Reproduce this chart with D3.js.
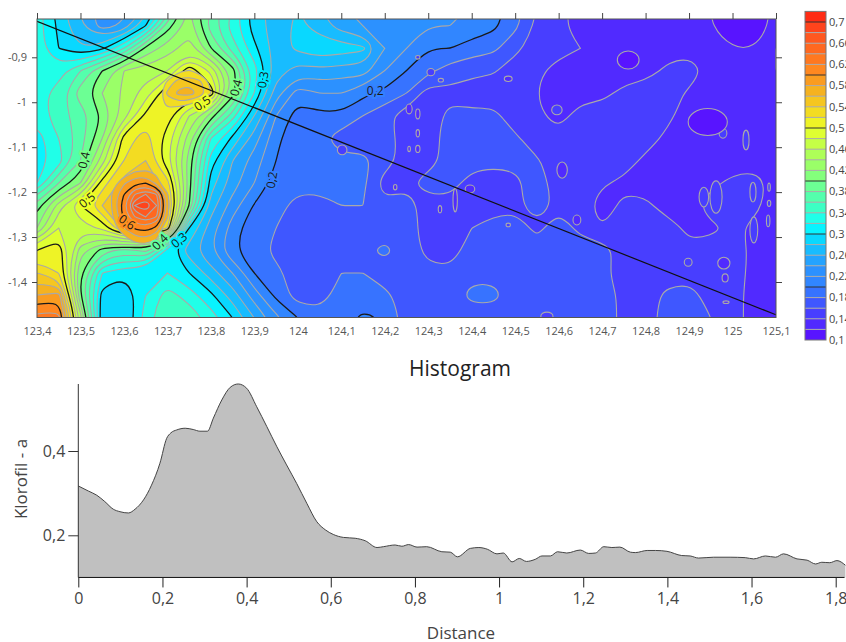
<!DOCTYPE html>
<html>
<head>
<meta charset="utf-8">
<script src="https://cdn.jsdelivr.net/npm/d3@7"></script>
<style>
	body { margin: 0; background: white; }
	text { font-family: "Open Sans", sans-serif; }
</style>
</head>
<body>
<div id="vis"></div>
<script>
// klorofil-a grid, in hundredths. rows go south from -0.78, columns east from 123.35, both every 0.05
const lon0 = 123.35;
const lat0 = -0.78;
const gridStep = 0.05;
const gridRows = [
	[33,33,29,26,23,23,26,33,42,38,34,29,27,28,26,24,23,22,23,22,22,22,21,19,16,15,13,13,13,13,13,13,12,10,10,13,13],
	[33,33,29.5,26,23,24.5,30,39,43,37,33,29,27,28.5,27,25,24,22,23,22,22,21.5,20.5,18.5,15.5,14.5,13,13,13,13,13,13,12,10,10,13,14],
	[33,33,30,28,29.5,34,40.5,43,45,40,35,30.5,27,28.5,29.5,29,28.5,24,22,20,20,19,18.5,16.5,15,15,14,13,13,13,13,13,13,12,12,14,14],
	[32,32,33,36,40,44,45,46,51.5,47.5,41,33,27,25,25.5,25,25,22,20,18.5,17,16.5,16.2,15,14.5,13,13,13,13,13,14.5,15.5,13,13,13,14,14],
	[33,33,35,39,42,44.5,47,51.9,51.9,51.5,41,32,25,21,22,22,20.5,19.5,18,15,15.5,15,15,15,14,13,13,13.5,14.5,15.5,15.5,13.5,13,13,13,13,13],
	[33,33,35,37,40,45,50.5,51,46,41,35,28,22,19,19.5,19.6,18,16.5,15,15,16.5,16.5,16.5,15,14.5,13,15,15,15,15,14.5,13,13,13,13,13,13],
	[31,31,34,37,42,51,53,49,43,34,29.5,25,20.5,18.5,18.5,17,17,17,15,15,17,17,17,16.3,15,15,15,15,15,15,13.5,13,13,13,13,13,13],
	[31,31,33,38,45,52,54,48.5,41,31,26,23,20,18.5,18.5,18.5,18.5,17,15,15,17,17,16.5,16.5,16.2,15,15,15,15,13.5,13,13,13,13,13,13,13],
	[31,32,38,42,51,55,55.5,53,41,29,25,22,19,18.5,18.5,18.5,18.5,15,15.5,17,17,15,15,15.5,17,15,15,14.3,13.5,13,13,13,13.5,14.5,15,13,13],
	[36,39,45,50,54,55.5,55.9,55.9,40,27,23,19.8,18.5,17.5,17.5,18,18,16.5,17,15,15,14,15,15.5,17,15.5,15,13,14.5,14.5,13,13,15,15,14.5,13,13],
	[40,42,48,47,48.5,55,55.5,52,30,25,21,18.5,18,17,17,17,17,17,17,15,15,16,17,17,15.5,17,15.5,14,15,15,15,13.5,13.5,14.5,13.5,13,13],
	[48,50,51.5,43,39,37,38.5,31,27,24,20.3,18.8,17.5,17.5,17,16.5,17.5,18.5,17,15.5,15,17,17,17,17,17,17,17,15,15,15,14.5,15,15,13.5,13,13],
	[54,54,52,40,32,30.5,30,32,30,27,24,20,18.5,17,17,18,18,17,17,16.5,16.5,17.5,17.5,17,17,17,17,16.5,15,15,15,15,15,15.5,13,13,13],
	[58,58,59,40,29,28,32,35,33,30.5,27,23,19.5,17,17.5,18.5,18.5,18.5,17,17,17,18.5,18.5,17,17,17,17,17,15.5,15,16.5,17,15,15,13,13,13],
	[62,63,63,45,28.5,28,33,36,35.5,33,30,26,22.5,20,18.5,19,20.5,19.8,17,17,17,17,17,17,17,17,17,17,15.5,15,17,17,16,15,13,13,13],
	[62,63,63,45,28,28,33,36,36,34,32,28,24,21,19,19,21,20,17,17,17,17,17,17,17,17,17,17,15.5,15,17,17,16,15,13,13,13]
];

// the two peaks read at a finer step, 0.025
const hotStep = 0.025;
const hotLon = 123.55;
const hotLat = -1.13;
const hotRows = [
	[52,53,54,54,54,54,53,50,45],
	[52,53,54.7,56,56.3,55.5,52,48,45],
	[52.5,55,57.7,59.6,60,57.5,53,49,44],
	[53,56.5,60,64,66,64,56.5,50,44],
	[53.5,56.5,61.5,68,69.8,66,57,50,42],
	[53,56,60.5,64,66,64,56.5,50,42],
	[52,55,58,60.3,61,59.5,53,48,40],
	[51,53,55,57,57.5,56,52,45,38],
	[48,50,52,53.5,54,53,50,42,36]
];
const secondLon = 123.65;
const secondLat = -0.88;
const secondRows = [
	[44,45,45,46,47,46,43,40,36],
	[45,46,47,48,48.5,48,45,42,38],
	[46,47,49,51.5,52.2,51,48,44,40],
	[47,49,52.5,55,55.5,54.5,51.5,45,41],
	[47,50,54.5,56.5,57,55.5,52,46,41],
	[47,50.5,52.5,53,52,50,47,44,38],
	[49,50.5,50.5,48,46,44,41,38,35]
];

const levels = d3.range(10, 72, 2); // 0,1 .. 0,7 every 0,02
const colorStops = [10, 12, 14, 16, 18, 20, 24, 28, 30, 32, 34, 38, 42, 46, 50, 54, 58, 60, 64, 68, 72];
const colorValues = ["#5a08ff", "#5520ff", "#4c33ff", "#4448ff", "#3a66ff", "#3380ff", "#2a96ff", "#12c8ff", "#00e8ff", "#10ffff", "#30ffd0", "#60ffa0", "#90ff70", "#b8ff50", "#ecff28", "#f5d020", "#f5a820", "#ff9020", "#ff7020", "#ff5020", "#ff2010"];

const lonTicks = [123.4, 123.5, 123.6, 123.7, 123.8, 123.9, 124, 124.1, 124.2, 124.3, 124.4, 124.5, 124.6, 124.7, 124.8, 124.9, 125, 125.1];
const latTicks = [-0.9, -1, -1.1, -1.2, -1.3, -1.4];
const barTicks = [0.7, 0.66, 0.62, 0.58, 0.54, 0.5, 0.46, 0.42, 0.38, 0.34, 0.3, 0.26, 0.22, 0.18, 0.14, 0.1];

// label, lon, lat, angle, level
const contourLabels = [
	["0,4", 123.508, -1.129, -78, 40],
	["0,5", 123.515, -1.218, -40, 50],
	["0,6", 123.607, -1.267, 35, 60],
	["0,4", 123.683, -1.311, -45, 38],
	["0,3", 123.727, -1.307, -40, 30],
	["0,5", 123.78, -1.002, -35, 50],
	["0,4", 123.858, -0.968, -75, 40],
	["0,3", 123.92, -0.95, -80, 30],
	["0,2", 123.94, -1.173, -80, 20],
	["0,2", 124.178, -0.975, 0, 20]
];

// patches too small for the grid: lon, lat, radius lon, radius lat, level
const spots = [
	[124.256, -1.015, .007, .011, 13],
	[124.276, -1.026, .005, .011, 13],
	[124.276, -1.069, .004, .008, 13],
	[124.256, -1.104, .003, .006, 13],
	[124.276, -1.104, .005, .008, 13],
	[124.102, -1.106, .011, .011, 15],
	[124.224, -1.189, .004, .006, 13],
	[124.396, -1.193, .011, .009, 13],
	[124.362, -1.218, .005, .026, 13],
	[124.327, -1.238, .004, .008, 13],
	[124.306, -0.933, .009, .008, 15],
	[124.329, -0.951, .006, .004, 15],
	[124.484, -0.948, .009, .006, 13],
	[124.484, -1.273, .005, .004, 15],
	[124.573, -1.476, .014, .009, 15],
	[124.276, -0.9, .005, .004, 15],
	[124.596, -1.017, .012, .011, 15],
	[124.608, -1.151, .012, .018, 13],
	[124.642, -1.262, .009, .011, 13],
	[124.978, -1.069, .009, .011, 15],
	[125.031, -1.084, .007, .022, 15],
	[125.084, -1.189, .003, .009, 15],
	[125.084, -1.225, .004, .007, 15],
	[125.082, -1.264, .004, .013, 15],
	[125.047, -1.2, .007, .022, 15],
	[125.049, -1.284, .009, .029, 15],
	[124.898, -1.356, .009, .009, 15],
	[124.98, -1.358, .014, .013, 13],
	[124.983, -1.391, .007, .009, 13],
	[124.985, -1.445, .007, .003, 13],
	[124.76, -0.906, .025, .02, 11],
	[124.934, -1.211, .011, .022, 15],
	[124.962, -1.211, .014, .036, 15],
	[124.943, -1.044, .045, .03, 11]
];

// transect line across the map
const transectLon = [123.4, 125.1];
const transectLat = [-0.82, -1.473];

// profile along the transect
const distance = [0, .024, .044, .063, .083, .099, .119, .135, .155, .174, .194, .21, .22, .234, .254, .273, .289, .307, .321, .341, .361, .38, .4, .424, .448, .472, .495, .519, .543, .567, .587, .606, .63, .658, .682, .71, .725, .753, .769, .785, .805, .828, .864, .884, .901, .932, .952, .972, .995, 1.01, 1.031, 1.048, 1.065, 1.086, 1.102, 1.122, 1.139, 1.161, 1.193, 1.213, 1.229, 1.249, 1.268, 1.287, 1.312, 1.324, 1.352, 1.372, 1.399, 1.434, 1.454, 1.474, 1.51, 1.549, 1.585, 1.605, 1.633, 1.657, 1.676, 1.708, 1.732, 1.752, 1.767, 1.786, 1.803, 1.823];
const klorofil = [.317, .305, .295, .28, .262, .256, .253, .262, .284, .319, .371, .43, .443, .45, .454, .451, .447, .447, .478, .521, .551, .559, .549, .505, .458, .41, .367, .323, .276, .232, .213, .202, .195, .193, .187, .171, .173, .177, .174, .178, .172, .173, .161, .16, .149, .169, .171, .167, .156, .158, .137, .145, .138, .143, .151, .151, .161, .158, .165, .157, .158, .173, .171, .172, .16, .159, .164, .164, .162, .152, .151, .146, .148, .148, .147, .144, .151, .148, .156, .144, .141, .132, .136, .135, .14, .129];
const distTicks = [0, 0.2, 0.4, 0.6, 0.8, 1, 1.2, 1.4, 1.6, 1.8];
const klorofilTicks = [0.2, 0.4];

const comma = d => String(d).replace(".", ",");

const svg = d3.select("#vis").append("svg").attr("width", 846).attr("height", 642).style("display", "block");

const color = d3.scaleLinear().domain(colorStops).range(colorValues);

// map
const x = d3.scaleLinear().domain([123.4, 125.1]).range([37, 776]);
const y = d3.scaleLinear().domain([-0.9, -1.4]).range([57.3, 282]);
const mapTop = 19;
const mapBottom = 317.5;

svg.append("clipPath").attr("id", "mapclip").append("rect")
	.attr("x", x.range()[0]).attr("y", mapTop)
	.attr("width", x.range()[1] - x.range()[0]).attr("height", mapBottom - mapTop);

const map = svg.append("g").attr("clip-path", "url(#mapclip)");

map.append("rect")
	.attr("x", x.range()[0]).attr("y", mapTop)
	.attr("width", x.range()[1] - x.range()[0]).attr("height", mapBottom - mapTop)
	.attr("fill", color(11));

const ringLine = d3.line().curve(d3.curveBasisClosed);

// bands and isolines of one grid
function drawGrid(rows, lonStart, latStart, step, thresholds) {
	const contours = d3.contours()
		.size([rows[0].length, rows.length])
		.smooth(true)
		.thresholds(thresholds)(rows.flat());

	function ringPath(c) {
		let out = "";
		c.coordinates.forEach(poly => poly.forEach(ring => {
			const pts = ring.slice(0, -1).map(p => [
				x(lonStart + (p[0] - 0.5) * step),
				y(latStart - (p[1] - 0.5) * step)
			]);
			out += ringLine(pts);
		}));
		return out;
	}

	const g = map.append("g");
	g.selectAll("path.band").data(contours).enter().append("path")
		.attr("class", "band")
		.attr("d", ringPath)
		.attr("fill-rule", "evenodd")
		.attr("fill", d => color(d.value + 1));

	g.selectAll("path.iso").data(contours.filter(d => d.value > 10)).enter().append("path")
		.attr("class", "iso")
		.attr("d", ringPath)
		.attr("fill", "none")
		.attr("stroke", d => d.value % 10 == 0 ? "#1a1a1a" : "#a9a9a9")
		.attr("stroke-width", d => d.value % 10 == 0 ? 1.3 : 1.1);
}

drawGrid(gridRows, lon0, lat0, gridStep, levels);
drawGrid(secondRows, secondLon, secondLat, hotStep, levels.filter(d => d >= 52));
drawGrid(hotRows, hotLon, hotLat, hotStep, levels.filter(d => d >= 56));

map.selectAll("ellipse").data(spots).enter().append("ellipse")
	.attr("cx", d => x(d[0]))
	.attr("cy", d => y(d[1]))
	.attr("rx", d => x(d[0] + d[2]) - x(d[0]))
	.attr("ry", d => y(d[1] - d[3]) - y(d[1]))
	.attr("fill", d => color(d[4]))
	.attr("stroke", "#a9a9a9")
	.attr("stroke-width", 1.1);

map.append("line")
	.attr("x1", x(transectLon[0])).attr("y1", y(transectLat[0]))
	.attr("x2", x(transectLon[1])).attr("y2", y(transectLat[1]))
	.attr("stroke", "#111").attr("stroke-width", 1.2);

map.selectAll("text.clabel").data(contourLabels).enter().append("text")
	.attr("class", "clabel")
	.attr("transform", d => `translate(${x(d[1])},${y(d[2])}) rotate(${d[3]})`)
	.attr("text-anchor", "middle")
	.attr("dy", "0.35em")
	.style("font-size", "12px")
	.style("paint-order", "stroke")
	.attr("stroke", d => color(d[4]))
	.attr("stroke-width", 4)
	.attr("fill", "#1a1a1a")
	.text(d => d[0]);

svg.append("rect")
	.attr("x", x.range()[0]).attr("y", mapTop)
	.attr("width", x.range()[1] - x.range()[0]).attr("height", mapBottom - mapTop)
	.attr("fill", "none").attr("stroke", "#555").attr("stroke-width", 1);

function styleAxis(g, size) {
	g.select(".domain").remove();
	g.selectAll("line").attr("stroke", "#444");
	g.selectAll("text").attr("fill", "#555").style("font-size", size);
}

svg.append("g").attr("transform", `translate(0,${mapTop})`)
	.call(d3.axisTop(x).tickValues(lonTicks).tickSize(6).tickFormat(""))
	.call(styleAxis, "11px");
svg.append("g").attr("transform", `translate(0,${mapBottom})`)
	.call(d3.axisBottom(x).tickValues(lonTicks).tickSize(0).tickPadding(10).tickFormat(comma))
	.call(styleAxis, "11px");
svg.append("g").attr("transform", `translate(${x.range()[0]},0)`)
	.call(d3.axisLeft(y).tickValues(latTicks).tickSize(5).tickPadding(5).tickFormat(comma))
	.call(styleAxis, "11px");
svg.append("g").attr("transform", `translate(${x.range()[1]},0)`)
	.call(d3.axisRight(y).tickValues(latTicks).tickSize(6).tickFormat(""))
	.call(styleAxis, "11px");

// colour bar
const bar = d3.scaleLinear().domain([0.1, 0.7]).range([340, 22]);
const barLeft = 805;
const barW = 21;

svg.selectAll("rect.cell").data(levels).enter().append("rect")
	.attr("class", "cell")
	.attr("x", barLeft)
	.attr("y", d => bar((d + 2) / 100))
	.attr("width", barW)
	.attr("height", d => bar(d / 100) - bar((d + 2) / 100))
	.attr("fill", d => color(d + 1));

svg.selectAll("line.sep").data(levels.slice(1)).enter().append("line")
	.attr("class", "sep")
	.attr("x1", barLeft).attr("x2", barLeft + barW)
	.attr("y1", d => bar(d / 100)).attr("y2", d => bar(d / 100))
	.attr("stroke", d => d % 10 == 0 ? "#333" : "#a9a9a9")
	.attr("stroke-width", 1);

svg.append("rect")
	.attr("x", barLeft).attr("y", bar(0.72))
	.attr("width", barW).attr("height", bar(0.1) - bar(0.72))
	.attr("fill", "none").attr("stroke", "#777");

svg.selectAll("text.barlabel").data(barTicks).enter().append("text")
	.attr("class", "barlabel")
	.attr("x", 829)
	.attr("y", d => bar(d))
	.attr("dy", "0.35em")
	.attr("fill", "#444")
	.style("font-size", "11px")
	.text(comma);

// histogram
const hx = d3.scaleLinear().domain([0, 1.8]).range([78.3, 835.7]);
const hy = d3.scaleLinear().domain([0.2, 0.4]).range([535.3, 451]);
const histBase = hy(0.1);
const profile = distance.map((d, i) => [d, klorofil[i]]);

svg.append("path")
	.attr("d", d3.area().x(d => hx(d[0])).y0(histBase).y1(d => hy(d[1])).curve(d3.curveMonotoneX)(profile))
	.attr("fill", "#c0c0c0");
svg.append("path")
	.attr("d", d3.line().x(d => hx(d[0])).y(d => hy(d[1])).curve(d3.curveMonotoneX)(profile))
	.attr("fill", "none").attr("stroke", "#444").attr("stroke-width", 1);

const histX = svg.append("g").attr("transform", `translate(0,${histBase})`)
	.call(d3.axisBottom(hx).tickValues(distTicks).tickSize(10).tickPadding(5).tickFormat(comma));
histX.select(".domain").attr("d", `M78.3,0H844.5`).attr("stroke", "#111");
histX.selectAll("line").attr("stroke", "#222");
histX.selectAll("text").attr("fill", "#444").style("font-size", "16px");

const histY = svg.append("g").attr("transform", "translate(78.3,0)")
	.call(d3.axisLeft(hy).tickValues(klorofilTicks).tickSize(10).tickPadding(3).tickFormat(comma));
histY.select(".domain").attr("d", `M0,384V${histBase}`).attr("stroke", "#333");
histY.selectAll("line").attr("stroke", "#333").attr("x2", -10);
histY.selectAll("text").attr("fill", "#444").style("font-size", "16px");

svg.append("text").attr("x", 460).attr("y", 376).attr("text-anchor", "middle")
	.attr("fill", "#222").style("font-size", "21px").text("Histogram");
svg.append("text").attr("x", 461).attr("y", 639).attr("text-anchor", "middle")
	.attr("fill", "#444").style("font-size", "17px").text("Distance");
svg.append("text").attr("transform", "translate(27,479) rotate(-90)").attr("text-anchor", "middle")
	.attr("fill", "#444").style("font-size", "17px").text("Klorofil - a");
</script>
</body>
</html>
